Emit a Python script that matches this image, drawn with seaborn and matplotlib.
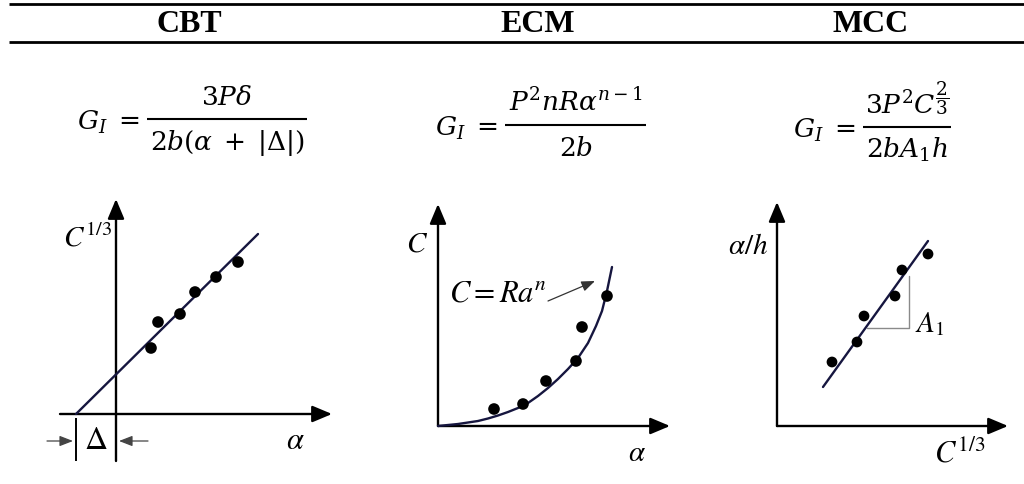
import matplotlib
matplotlib.use("Agg")
import matplotlib.pyplot as plt
import seaborn as sns

# Column headings and energy release rate expressions (numerator / denominator)
methods = ["CBT", "ECM", "MCC"]
formula_lhs = r"$G_I\;=$"
formula_num = [r"$3P\delta$", r"$P^2nR\alpha^{n-1}$", r"$3P^2C^{\dfrac{2}{3}}$"]
formula_den = [r"$2b(\alpha\;+\;|\Delta|)$", r"$2b$", r"$2bA_1h$"]

# CBT: cube root of compliance versus crack length; the fit meets the axis at -Delta
cbt_a = [35, 42, 64, 79, 100, 122]
cbt_c13 = [66, 92, 100, 122, 137, 152]
cbt_fit_a = [-40, 142]
cbt_fit_c13 = [0, 180]
cbt_delta = 40

# ECM: compliance versus crack length with the power-law curve C = R a^n
ecm_a = [56, 85, 108, 138, 144, 169]
ecm_c = [17, 22, 45, 65, 99, 130]
ecm_curve_a = [0, 10, 20, 30, 40, 50, 60, 70, 80, 90, 100, 110, 120, 130,
               140, 150, 158, 164, 169, 174]
ecm_curve_c = [0, 1, 2, 3.5, 5, 7.5, 10.5, 14, 18, 23, 30, 38, 47, 57,
               68, 83, 100, 115, 135, 159]

# MCC: normalised crack length versus cube root of compliance, slope A1
mcc_c13 = [55, 80, 87, 118, 125, 151]
mcc_ah = [64, 84, 110, 130, 156, 172]
mcc_fit_c13 = [46, 151]
mcc_fit_ah = [39, 185]
mcc_slope_c13 = [90, 132, 132]
mcc_slope_ah = [98, 98, 150]

sns.set_theme(style="white")
plt.rcParams["font.family"] = ["Liberation Serif", "DejaVu Serif"]

W, H = 1024, 485
fig = plt.figure(figsize=(W / 100, H / 100), dpi=100)
fig.patch.set_facecolor("white")

FIT = "#16163f"
INK = "black"

# Table frame, headings and formulas (pixel coordinates, y downwards)
tab = fig.add_axes([0, 0, 1, 1])
tab.set_xlim(0, W)
tab.set_ylim(H, 0)
tab.axis("off")
tab.hlines([5, 43], 9, W, color=INK, lw=2.0)

col_x = [189, 538, 871]
bar_x0 = [147, 505, 863]
bar_x1 = [307, 646, 951]
bar_y = [120, 126, 128]
FS = 19
for i, name in enumerate(methods):
    tab.text(col_x[i], 24, name, ha="center", va="center", fontsize=23,
             fontweight="bold", color=INK)
    xm = (bar_x0[i] + bar_x1[i]) / 2
    tab.hlines(bar_y[i], bar_x0[i], bar_x1[i], color=INK, lw=1.5)
    tab.text(xm, bar_y[i] - 15, formula_num[i], ha="center", va="baseline",
             fontsize=FS, math_fontfamily="dejavuserif", color=INK)
    tab.text(xm, bar_y[i] + 30, formula_den[i], ha="center", va="baseline",
             fontsize=FS, math_fontfamily="dejavuserif", color=INK)
    tab.text(bar_x0[i] - 8, bar_y[i] + 10, formula_lhs, ha="right",
             va="baseline", fontsize=FS, math_fontfamily="dejavuserif",
             color=INK)


def panel(ox, oy, x0, x1, y0, y1):
    """Axes whose data units are pixels measured from the origin (ox, oy)."""
    left = (ox + x0) / W
    bottom = (H - (oy - y0)) / H
    ax = fig.add_axes([left, bottom, (x1 - x0) / W, (y1 - y0) / H])
    ax.set_xlim(x0, x1)
    ax.set_ylim(y0, y1)
    ax.axis("off")
    return ax


def axis_arrow(ax, start, end):
    ax.annotate("", xy=end, xytext=start, annotation_clip=False,
                arrowprops=dict(arrowstyle="-|>,head_length=1.0,head_width=0.42",
                                mutation_scale=12, lw=1.7, color=INK,
                                shrinkA=0, shrinkB=0))


def thin_arrow(ax, start, end, color="#444444"):
    ax.annotate("", xy=end, xytext=start, annotation_clip=False,
                arrowprops=dict(arrowstyle="-|>,head_length=0.9,head_width=0.35",
                                mutation_scale=9, lw=0.9, color=color,
                                shrinkA=0, shrinkB=0))


def label(ax, x, y, s, size, ha="center"):
    ax.text(x, y, s, ha=ha, va="center", fontsize=size,
            math_fontfamily="stix", color=INK, clip_on=False)


def dots(ax, x, y, s=70):
    sns.scatterplot(x=x, y=y, ax=ax, color=INK, s=s, edgecolor="none",
                    legend=False, zorder=4)


def line(ax, x, y, color=FIT, lw=1.7):
    sns.lineplot(x=x, y=y, ax=ax, color=color, lw=lw, sort=False,
                 estimator=None, legend=False, zorder=3)


# --- CBT ---
ax1 = panel(116, 415, -70, 225, -55, 225)
axis_arrow(ax1, (-56, 0), (216, 0))
axis_arrow(ax1, (0, -47), (0, 215))
line(ax1, cbt_fit_a, cbt_fit_c13)
dots(ax1, cbt_a, cbt_c13)
ax1.vlines(-cbt_delta, -47, -4, color=INK, lw=1.4)
thin_arrow(ax1, (-69, -27), (-cbt_delta - 3, -27))
thin_arrow(ax1, (32, -27), (3, -27))
label(ax1, -cbt_delta / 2, -27, r"$\Delta$", 23)
label(ax1, -4, 177, r"$C^{1/3}$", 21, ha="right")
label(ax1, 179, -27, r"$\alpha$", 22)

# --- ECM ---
ax2 = panel(438, 427, -40, 240, -45, 228)
axis_arrow(ax2, (0, 0), (232, 0))
axis_arrow(ax2, (0, 0), (0, 222))
line(ax2, ecm_curve_a, ecm_curve_c)
dots(ax2, ecm_a, ecm_c)
thin_arrow(ax2, (110, 125), (157, 145), color="#333333")
label(ax2, 60, 133, r"$C{=}Ra^n$", 22)
label(ax2, -21, 182, r"$C$", 21)
label(ax2, 199, -27, r"$\alpha$", 21)

# --- MCC ---
ax3 = panel(777, 427, -50, 240, -45, 228)
axis_arrow(ax3, (0, 0), (231, 0))
axis_arrow(ax3, (0, 0), (0, 224))
line(ax3, mcc_slope_c13, mcc_slope_ah, color="#8a8a8a", lw=1.0)
line(ax3, mcc_fit_c13, mcc_fit_ah)
dots(ax3, mcc_c13, mcc_ah, s=60)
label(ax3, 138, 103, r"$A_1$", 21, ha="left")
label(ax3, -9, 180, r"$\alpha/h$", 21, ha="right")
label(ax3, 183, -27, r"$C^{1/3}$", 22)

fig.savefig("out.png", dpi=100, facecolor="white")
